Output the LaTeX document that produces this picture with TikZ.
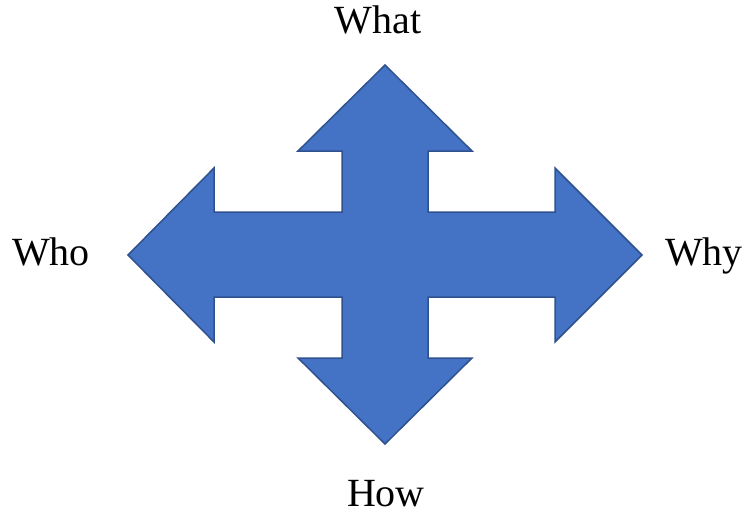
\documentclass[tikz,border=0pt]{standalone}
\usepackage{fontspec}
\setmainfont{Liberation Serif}
\definecolor{arrowfill}{HTML}{4472C4}
\definecolor{arrowline}{HTML}{2F528F}
\begin{document}
\begin{tikzpicture}[x=1pt,y=-1pt,
  quad/.style={fill=arrowfill,draw=arrowline,line width=1.5pt,line join=miter},
  lbl/.style={font=\fontsize{40}{48}\selectfont,inner sep=0pt,anchor=base,text depth=0pt}]
\useasboundingbox (0,0) rectangle (746,512);
\draw[quad] (385,65) -- (472,151) -- (428,151) -- (428,212) -- (555,212) -- (555,168)
  -- (642,255) -- (555,342) -- (555,297) -- (428,297) -- (428,358) -- (472,358)
  -- (385,444) -- (298,358) -- (342,358) -- (342,297) -- (214,297) -- (214,342)
  -- (128,255) -- (214,168) -- (214,212) -- (342,212) -- (342,151) -- (298,151) -- cycle;
\node[lbl] (what) at (378,33) {What};
\node[lbl] (how) at (386,506) {How};
\node[lbl] (who) at (51,265) {Who};
\node[lbl] (why) at (704,265) {Why};
\end{tikzpicture}
\end{document}
